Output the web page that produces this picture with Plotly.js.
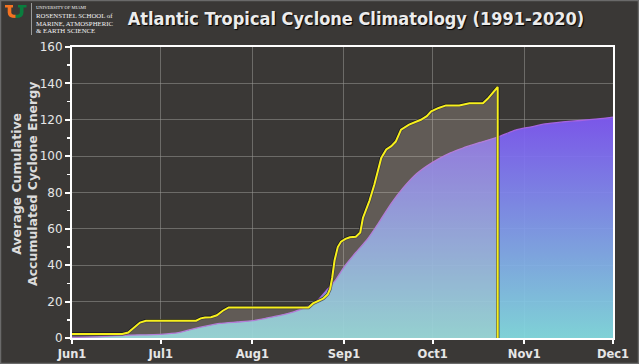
<!DOCTYPE html>
<html>
<head>
<meta charset="utf-8">
<script src="https://cdn.plot.ly/plotly-3.0.1.min.js"></script>
<style>html,body{margin:0;padding:0;background:#3a3836;}#chart{width:639px;height:364px;}</style>
</head>
<body>
<div id="chart"></div>
<script>
// ---- data ----
// days since June 1
const tickDays = [0, 30, 61, 92, 122, 153, 183];
const tickLabels = ["Jun1", "Jul1", "Aug1", "Sep1", "Oct1", "Nov1", "Dec1"];

// 1991-2020 average cumulative ACE
const climDays = [0, 10, 18, 30, 36, 41, 46, 50, 56, 61, 66, 70, 75, 80, 83, 86, 89, 92, 96, 100, 104, 108, 112, 116, 120, 124, 128, 132, 138, 144, 150, 155, 160, 166, 172, 178, 183];
const climACE  = [0.3, 0.8, 1.5, 2.0, 2.9, 5.0, 6.8, 8.0, 8.8, 9.5, 11.0, 12.3, 14.4, 17.5, 20.5, 26, 31.5, 39, 47, 54.5, 64, 74, 82.5, 89.5, 94.5, 98.5, 101.8, 104.3, 107.5, 110.5, 114.3, 116, 117.7, 118.8, 119.6, 120.5, 121.5];

// current season cumulative ACE
const seasonDays = [0, 17, 19, 21, 23, 25, 42, 43.5, 45, 47, 49, 51, 53, 80, 81.5, 83.5, 85, 86.5, 87.3, 88, 88.8, 89.9, 91, 92.5, 94, 96, 97.5, 98.4, 100.6, 102.3, 104.6, 106.3, 108, 109.5, 111.3, 114, 118, 120, 121.5, 124, 126.5, 131, 134.4, 139, 140.6, 144, 144];
const seasonACE  = [2.2, 2.2, 3.0, 5.5, 8.5, 9.5, 9.5, 10.8, 11.3, 11.4, 12.5, 15, 16.8, 16.8, 19, 20.5, 21.7, 24, 27, 33, 42.6, 50, 53, 54.5, 55.4, 55.7, 58, 66, 75.4, 84.5, 99, 103.7, 105.5, 108, 114.6, 117.3, 120, 122, 124.6, 126.5, 127.9, 127.9, 129.1, 129.1, 131.5, 138, 0];

// ---- geometry helpers for decorations (pixel -> paper) ----
const ML = 72, MR = 26, MT = 47, MB = 26, W = 639, H = 364;
const PW = W - ML - MR, PH = H - MT - MB;
const X = px => (px - ML) / PW;
const Y = py => (H - MB - py) / PH;
const P = s => s.replace(/(-?\d+\.?\d*),(-?\d+\.?\d*)/g, (m, a, b) => X(+a).toFixed(5) + ',' + Y(+b).toFixed(5));

const bg = '#3a3836';
const sans = 'DejaVu Sans, sans-serif';
const cond = 'DejaVu Sans Condensed, DejaVu Sans, sans-serif';

const traces = [
  {
    x: climDays, y: climACE, type: 'scatter', mode: 'lines',
    line: {color: '#a664e0', width: 1.3, shape: 'spline', smoothing: 0.6},
    fill: 'tozeroy',
    fillgradient: {type: 'vertical', start: 0, stop: 122,
      colorscale: [[0, 'rgba(132,221,226,0.93)'], [1, 'rgba(127,88,246,0.93)']]},
    hoverinfo: 'skip', showlegend: false
  },
  {
    x: seasonDays, y: seasonACE, type: 'scatter', mode: 'lines',
    line: {color: 'rgba(10,10,25,0.75)', width: 3.4},
    hoverinfo: 'skip', showlegend: false
  },
  {
    x: seasonDays, y: seasonACE, type: 'scatter', mode: 'lines',
    line: {color: '#f7f01c', width: 2},
    fill: 'tozeroy', fillcolor: 'rgba(222,206,190,0.24)',
    hoverinfo: 'skip', showlegend: false
  }
];

const lt = (t, px, py, size, extra) => Object.assign({
  text: t, xref: 'paper', yref: 'paper', x: X(px), y: Y(py), xanchor: 'left', yanchor: 'middle',
  showarrow: false, font: {family: 'Liberation Serif, DejaVu Serif, serif', size: size, color: '#f2f2f2'}
}, extra || {});

const layout = {
  width: W, height: H,
  paper_bgcolor: bg, plot_bgcolor: bg,
  margin: {l: ML, r: MR, t: MT, b: MB, pad: 0},
  showlegend: false,
  title: {
    text: 'Atlantic Tropical Cyclone Climatology (1991-2020)',
    x: 356 / W, xanchor: 'center', y: 1 - 19 / H, yanchor: 'middle', xref: 'container', yref: 'container',
    font: {family: cond, size: 18, color: '#ececec', weight: 'bold', shadow: '1px 1px 1px #000'}
  },
  xaxis: {
    range: [0, 183], tickvals: tickDays, ticktext: tickLabels,
    showgrid: true, gridcolor: 'rgba(150,150,145,0.55)', gridwidth: 1,
    showline: true, linecolor: '#ffffff', linewidth: 2, mirror: true,
    ticks: 'outside', ticklen: 4, tickcolor: '#ffffff', tickwidth: 2,
    tickfont: {family: sans, size: 11.5, color: '#e6e6e6', weight: 'bold'},
    zeroline: false, fixedrange: true
  },
  yaxis: {
    range: [0, 160], dtick: 20, tick0: 0,
    showgrid: true, gridcolor: 'rgba(150,150,145,0.55)', gridwidth: 1,
    showline: true, linecolor: '#ffffff', linewidth: 2, mirror: true,
    ticks: 'outside', ticklen: 5, tickcolor: '#ffffff', tickwidth: 2,
    minor: {dtick: 10, ticks: 'outside', ticklen: 3, tickcolor: '#ffffff', tickwidth: 1.5, showgrid: false},
    tickfont: {family: sans, size: 12, color: '#e6e6e6'},
    zeroline: false, fixedrange: true
  },
  shapes: [
    {type: 'rect', xref: 'paper', yref: 'paper', x0: X(0.5), x1: X(638.5), y0: Y(0.5), y1: Y(363.5),
     line: {color: '#6a6a6a', width: 1.5}, layer: 'above'},
    {type: 'path', xref: 'paper', yref: 'paper', path: P('M5,5 L13,5 L13,7.5 L11.3,7.5 L11.3,12.5 Q11.3,14.8 15.7,14.8 L15.7,18 Q7.7,18 7.7,12.5 L7.7,7.5 L5,7.5 Z'),
     fillcolor: '#f47321', line: {width: 0}},
    {type: 'path', xref: 'paper', yref: 'paper', path: P('M26.5,5 L18,5 L18,7.5 L19.8,7.5 L19.8,12.5 Q19.8,14.8 15.7,14.8 L15.7,18 Q23.5,18 23.5,12.5 L23.5,7.5 L26.5,7.5 Z'),
     fillcolor: '#0a7d3e', line: {width: 0}},
    {type: 'line', xref: 'paper', yref: 'paper', x0: X(31.5), x1: X(31.5), y0: Y(3), y1: Y(35),
     line: {color: '#9a9a9a', width: 1}}
  ],
  annotations: [
    lt('UNIVERSITY OF MIAMI', 33.5, 7, 4.6),
    lt('ROSENSTIEL SCHOOL of', 33.5, 15.5, 6.8),
    lt('MARINE, ATMOSPHERIC', 33.5, 23, 6.8),
    lt('&amp; EARTH SCIENCE', 33.5, 30.5, 6.8),
    {text: 'Average Cumulative<br>Accumulated Cyclone Energy', xref: 'paper', yref: 'paper',
     x: X(24), y: Y(184), xanchor: 'center', yanchor: 'middle', textangle: -90, showarrow: false,
     font: {family: sans, size: 12.5, color: '#dcdcdc', weight: 'bold'}}
  ]
};

Plotly.newPlot('chart', traces, layout, {staticPlot: true, displayModeBar: false});
</script>
</body>
</html>
